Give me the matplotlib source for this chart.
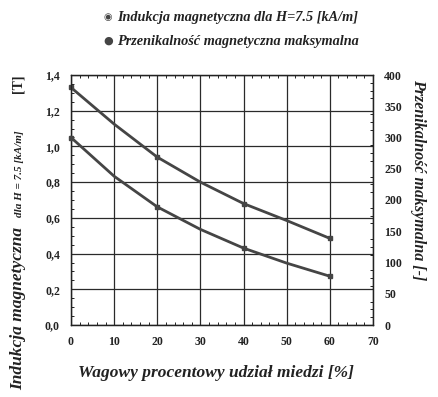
import matplotlib.pyplot as plt
from matplotlib.ticker import MultipleLocator, FuncFormatter

# udzial miedzi [%]
cu = [0, 10, 20, 30, 40, 50, 60]
# indukcja magnetyczna dla H=7.5 kA/m [T]
induk = [1.33, 1.125, 0.94, 0.80, 0.68, 0.585, 0.485]
# przenikalnosc magnetyczna maksymalna [-]
przen = [300, 238, 189, 153, 123, 99, 78]

xticks = [0, 10, 20, 30, 40, 50, 60, 70]
lticks = [0.0, 0.2, 0.4, 0.6, 0.8, 1.0, 1.2, 1.4]
rticks = [0, 50, 100, 150, 200, 250, 300, 350, 400]

plt.rcParams['font.family'] = ['Liberation Serif', 'DejaVu Serif']
col = '#454545'

fig = plt.figure(figsize=(4.39, 3.97), dpi=100)
ax = fig.add_axes([71/439, 1-325/397, 302/439, 250/397])
ax2 = ax.twinx()

ax.set_xlim(0, 70)
ax.set_ylim(0, 1.4)
ax2.set_ylim(0, 400)
ax.set_xticks(xticks)
ax.set_yticks(lticks)
ax2.set_yticks(rticks)
ax.yaxis.set_major_formatter(FuncFormatter(lambda v, p: ('%.1f' % v).replace('.', ',')))
ax.grid(True, color='#2a2a2a', lw=0.9)
ax.xaxis.set_minor_locator(MultipleLocator(2))
ax.yaxis.set_minor_locator(MultipleLocator(0.05))
ax.tick_params(which='major', length=0, labelsize=8.5, pad=8, labelcolor='#222222')
ax.tick_params(which='minor', direction='in', length=2, width=0.6, top=True, right=False)
ax2.yaxis.set_minor_locator(MultipleLocator(12.5))
ax2.tick_params(which='major', length=0, labelsize=8.5, pad=8, labelcolor='#222222')
ax2.tick_params(which='minor', direction='in', length=2, width=0.6)
for a in (ax, ax2):
    for s in a.spines.values():
        s.set_color('#222222')
        s.set_linewidth(0.9)
for lab in ax.get_xticklabels() + ax.get_yticklabels() + ax2.get_yticklabels():
    lab.set_fontweight('bold')

ax.plot(cu, induk, color=col, lw=2, marker='s', ms=3.3, markevery=[0, 2, 4, 6], clip_on=False, zorder=5)
ax2.plot(cu, przen, color=col, lw=2, marker='s', ms=3.3, markevery=[0, 2, 4, 6], clip_on=False, zorder=5)

tkw = dict(style='italic', fontweight='bold', color='#222222')
# legenda
fig.text(108/439, 1-17/397, '\u25c9', fontsize=7, ha='center', va='center', color=col, family='DejaVu Sans')
fig.text(117/439, 1-17/397, 'Indukcja magnetyczna dla H=7.5 [kA/m]', fontsize=10.3, va='center', **tkw)
fig.text(108/439, 1-41/397, '\u25cf', fontsize=8, ha='center', va='center', color=col, family='DejaVu Sans')
fig.text(117/439, 1-41/397, 'Przenikalność magnetyczna maksymalna', fontsize=10.3, va='center', **tkw)

# opis osi lewej
fig.text(18/439, 1-390/397, 'Indukcja magnetyczna', fontsize=12.5, rotation=90, ha='center', va='bottom', **tkw)
fig.text(20/439, 1-217/397, 'dla H = 7.5 [kA/m]', fontsize=8, rotation=90, ha='center', va='bottom', **tkw)
fig.text(18/439, 1-93/397, '[T]', fontsize=10, rotation=90, ha='center', va='bottom', color='#222222', fontweight='bold')
# opis osi prawej
fig.text(418/439, 1-180/397, 'Przenikalność maksymalna [-]', fontsize=11.5, rotation=270, ha='center', va='center', **tkw)
# opis osi x
fig.text(216/439, 1-373/397, 'Wagowy procentowy udział miedzi [%]', fontsize=12.5, ha='center', va='center', **tkw)

fig.savefig('out.png', dpi=100)
